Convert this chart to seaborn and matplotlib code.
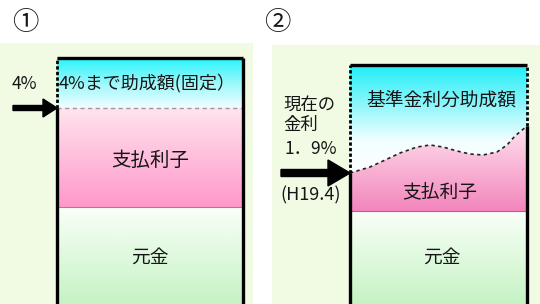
import numpy as np
import matplotlib.pyplot as plt
import seaborn as sns
from matplotlib.colors import LinearSegmentedColormap
from matplotlib.patches import Rectangle

# values (pixel-like units, y measured up from the bottom of the picture)
panel_marks = ['①', '②']
principal = [97, 93]            # 元金 segment height
interest_top_1 = 196            # 4% level in panel 1
box_top = [246, 239]
# panel 2: top of 支払利子 follows the market rate
wave_x = [350, 370, 383, 400, 417, 430, 443, 457, 470, 483, 497, 507, 515, 527]
wave_y = [131, 137, 143, 151, 157, 159, 157, 153, 150, 149, 152, 159, 168, 178]

# layout
box_left = [57, 350]
box_right = [243, 527]
W, H = 540, 304

sns.set_theme(style='white')
plt.rcParams['font.family'] = ['Noto Sans CJK JP', 'DejaVu Sans']

fig = plt.figure(figsize=(5.4, 3.04), dpi=100)
ax = fig.add_axes([0, 0, 1, 1])
ax.set_xlim(0, W)
ax.set_ylim(0, H)
ax.axis('off')

TXT = '#161616'


def grad(artist, stops, path=None):
    # vertical gradient image clipped to a bar or a filled area; stops go bottom -> top
    if path is None:
        bb = artist.get_bbox()
        x0, x1, y0, y1 = bb.x0, bb.x1, bb.y0, bb.y1
    else:
        ext = path.get_extents()
        x0, x1, y0, y1 = ext.x0, ext.x1, ext.y0, ext.y1
    cmap = LinearSegmentedColormap.from_list('g', stops)
    im = ax.imshow(np.linspace(0, 1, 200).reshape(-1, 1), cmap=cmap, origin='lower',
                   extent=[x0, x1, y0, y1], aspect='auto', interpolation='bilinear', zorder=2)
    if path is None:
        im.set_clip_path(artist)
    else:
        im.set_clip_path(path, transform=ax.transData)


# pale backgrounds
ax.add_patch(Rectangle((0, 0), 253, H - 43, color='#F1FBE4', zorder=0, lw=0))
ax.add_patch(Rectangle((272, 0), W - 272, H - 45, color='#F1FBE4', zorder=0, lw=0))

green = ['#C6F3C4', '#F9FFF8']

# panel 1 stacked segments
w1 = box_right[0] - box_left[0]
c1 = (box_left[0] + box_right[0]) / 2
b = ax.bar(c1, principal[0], width=w1, bottom=0, color='none', lw=0)[0]
grad(b, green)
b = ax.bar(c1, interest_top_1 - principal[0], width=w1, bottom=principal[0], color='none', lw=0)[0]
grad(b, ['#FF98CA', '#FFE4EF'])
b = ax.bar(c1, box_top[0] - interest_top_1, width=w1, bottom=interest_top_1, color='none', lw=0)[0]
grad(b, ['#F0FEFF', '#9AF8FB', '#28F4FA'])

# panel 2
w2 = box_right[1] - box_left[1]
c2 = (box_left[1] + box_right[1]) / 2
b = ax.bar(c2, principal[1], width=w2, bottom=0, color='none', lw=0)[0]
grad(b, green)
b = ax.bar(c2, box_top[1] - min(wave_y), width=w2, bottom=min(wave_y), color='none', lw=0)[0]
grad(b, [(0, '#FFFFFF'), (0.3, '#F2FEFF'), (1, '#20EEF7')])
poly = ax.fill_between(wave_x, principal[1], wave_y, color='none', lw=0)
grad(poly, ['#F386BD', '#F9B3D4', '#FDE3EE'], path=poly.get_paths()[0])

# boundaries
ax.plot([box_left[0], box_right[0]], [principal[0]] * 2, color='#b07a98', lw=0.8, zorder=3)
ax.plot([box_left[1], box_right[1]], [principal[1]] * 2, color='#a06a88', lw=0.8, zorder=3)
ax.plot([box_left[0], box_right[0]], [interest_top_1] * 2, color='#9a9a9a', lw=1,
        linestyle=(0, (3, 2.5)), zorder=3)
sns.lineplot(x=wave_x, y=wave_y, ax=ax, color='#222222', lw=1.2,
             linestyle=(0, (2, 2)), zorder=4)

# box borders
k = dict(color='black', lw=2.4, zorder=5, solid_capstyle='butt')
d = dict(color='black', lw=2.0, zorder=5, linestyle=(0, (1.2, 0.8)))
ax.plot([box_left[0], box_right[0]], [box_top[0]] * 2, **k)
ax.plot([box_right[0]] * 2, [0, box_top[0]], **k)
ax.plot([box_left[0]] * 2, [0, interest_top_1], **k)
ax.plot([box_left[0]] * 2, [interest_top_1, box_top[0]], **d)
ax.plot([box_left[1], box_right[1]], [box_top[1]] * 2, **k)
ax.plot([box_left[1]] * 2, [0, wave_y[0]], **k)
ax.plot([box_left[1]] * 2, [wave_y[0], box_top[1]], **d)
ax.plot([box_right[1]] * 2, [0, wave_y[-1]], **k)
ax.plot([box_right[1]] * 2, [wave_y[-1], box_top[1]], **d)

# arrows
ax.arrow(13, interest_top_1, box_left[0] - 13, 0, width=5, head_width=18, head_length=14,
         length_includes_head=True, color='black', zorder=6)
ax.arrow(281, wave_y[0], box_left[1] - 281, 0, width=7, head_width=26, head_length=22,
         length_includes_head=True, color='black', zorder=6)

# texts
ax.text(25, H - 22, panel_marks[0], fontsize=19, ha='center', va='center', color=TXT)
ax.text(277, H - 22, panel_marks[1], fontsize=19, ha='center', va='center', color=TXT)
ax.text(12, H - 84, '4%', fontsize=12.5, ha='left', va='center', color=TXT)
ax.text(59, H - 83, '4%まで助成額(固定）', fontsize=13, ha='left', va='center', color=TXT, zorder=7)
ax.text(c1, H - 160, '支払利子', fontsize=14, ha='center', va='center', color=TXT, zorder=7)
ax.text(c1, H - 257, '元金', fontsize=13.5, ha='center', va='center', color=TXT, zorder=7)
ax.text(441, H - 100, '基準金利分助成額', fontsize=13.5, ha='center', va='center', color=TXT, zorder=7)
ax.text(283, H - 105, '現在の', fontsize=12.5, ha='left', va='center', color=TXT)
ax.text(283, H - 125, '金利', fontsize=12.5, ha='left', va='center', color=TXT)
ax.text(285, H - 149, '1．9%', fontsize=12.5, ha='left', va='center', color=TXT)
ax.text(280, H - 195, '(H19.4)', fontsize=13, ha='left', va='center', color=TXT)
ax.text(440, H - 192, '支払利子', fontsize=13.5, ha='center', va='center', color=TXT, zorder=7)
ax.text(442, H - 257, '元金', fontsize=13.5, ha='center', va='center', color=TXT, zorder=7)

ax.set_xlim(0, W)
ax.set_ylim(0, H)
fig.savefig('out.png', dpi=100)
